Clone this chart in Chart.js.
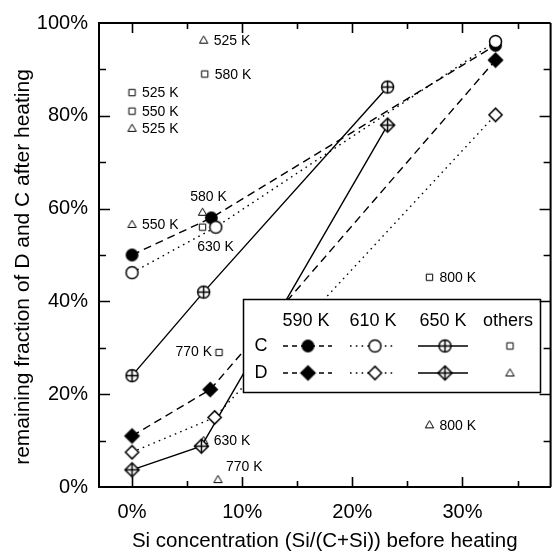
<!DOCTYPE html>
<html lang="en">
<head>
<meta charset="UTF-8">
<title>Remaining fraction of D and C after heating</title>
<script src="https://cdn.jsdelivr.net/npm/chart.js"></script>
<style>
  html, body { margin: 0; padding: 0; background: #fff; }
  #chart { display: block; }
</style>
</head>
<body>
<canvas id="chart" width="558" height="554"></canvas>
<script>
// Si concentration (%) vs remaining fraction (%)
const c590x = [0, 7.2, 33.0];
const c590y = [50, 58, 95.2];
const c610x = [0, 7.6, 33.0];
const c610y = [46.2, 56, 96];
const c650x = [0, 6.5, 23.2];
const c650y = [24, 42, 86.2];
const d590x = [0, 7.1, 33.0];
const d590y = [11, 21, 92];
const d610x = [0, 7.5, 33.0];
const d610y = [7.5, 15, 80.2];
const d650x = [0, 6.3, 23.2];
const d650y = [3.7, 8.8, 78];

// "others" (single heatings at other temperatures)
const otherCx = [0, 0, 6.6, 6.4, 7.9, 27.0];
const otherCy = [85, 81, 89, 56, 29, 45.2];
const otherCtemp = ['525 K', '550 K', '580 K', '630 K', '770 K', '800 K'];
const otherDx = [6.5, 0, 0, 6.4, 6.5, 7.8, 27.0];
const otherDy = [96.3, 77.3, 56.6, 59.2, 10, 1.6, 13.4];
const otherDtemp = ['525 K', '525 K', '550 K', '580 K', '630 K', '770 K', '800 K'];

const xTicks = [0, 10, 20, 30];
const yTicks = [0, 20, 40, 60, 80, 100];
const tempHeads = ['590 K', '610 K', '650 K', 'others'];

const FONT = '"Liberation Sans", Arial, Helvetica, sans-serif';
Chart.defaults.font.family = FONT;
Chart.defaults.color = '#000';

// where each "others" label sits relative to its marker
const otherCside = ['r', 'r', 'r', 'b', 'l', 'r'];
const otherDside = ['r', 'r', 'r', 't', 'r', 'tr', 'r'];

function marker(kind) {
  const s = 19, m = s / 2;
  const c = document.createElement('canvas');
  c.width = s; c.height = s;
  const g = c.getContext('2d');
  g.strokeStyle = '#000';
  g.fillStyle = '#fff';
  g.lineWidth = 1.5;
  const circle = r => { g.beginPath(); g.arc(m, m, r, 0, Math.PI * 2); };
  const diamond = r => {
    g.beginPath();
    g.moveTo(m, m - r); g.lineTo(m + r, m); g.lineTo(m, m + r); g.lineTo(m - r, m);
    g.closePath();
  };
  const plus = r => {
    g.beginPath();
    g.moveTo(m - r, m); g.lineTo(m + r, m);
    g.moveTo(m, m - r); g.lineTo(m, m + r);
    g.stroke();
  };
  if (kind === 'dot') { circle(6.4); g.fillStyle = '#000'; g.fill(); }
  if (kind === 'ring') { circle(6); g.fill(); g.stroke(); }
  if (kind === 'ocross') { circle(6); g.fill(); g.stroke(); plus(6); }
  if (kind === 'diamond') { diamond(7); g.fillStyle = '#000'; g.fill(); g.stroke(); }
  if (kind === 'odiamond') { diamond(6.6); g.fill(); g.stroke(); }
  if (kind === 'dcross') { diamond(7); g.fill(); g.stroke(); plus(7); }
  if (kind === 'square') {
    g.lineWidth = 1;
    g.beginPath(); g.rect(m - 3.2, m - 3.2, 6.4, 6.4); g.fill(); g.stroke();
  }
  if (kind === 'tri') {
    g.lineWidth = 1;
    g.beginPath(); g.moveTo(m, m - 4.2); g.lineTo(m + 4.2, m + 3); g.lineTo(m - 4.2, m + 3);
    g.closePath(); g.fill(); g.stroke();
  }
  return c;
}

const mk = {};
['dot', 'ring', 'ocross', 'diamond', 'odiamond', 'dcross', 'square', 'tri'].forEach(k => mk[k] = marker(k));

const DASH = [8, 5], DOT = [1.6, 4.2], SOLID = [];

function pts(xs, ys) { return xs.map((x, i) => ({ x: x, y: ys[i] })); }

function series(xs, ys, style, dash) {
  return {
    data: pts(xs, ys),
    showLine: true,
    borderColor: '#000',
    borderWidth: 1.4,
    borderDash: dash,
    pointStyle: mk[style],
    pointRadius: 6,
    pointHoverRadius: 6
  };
}

function others(xs, ys, style) {
  return {
    data: pts(xs, ys),
    showLine: false,
    pointStyle: mk[style],
    pointRadius: 4,
    pointHoverRadius: 4
  };
}

// first dataset is painted last (on top)
const datasets = [
  series(c610x, c610y, 'ring', DOT),
  series(c590x, c590y, 'dot', DASH),
  series(c650x, c650y, 'ocross', SOLID),
  series(d610x, d610y, 'odiamond', DOT),
  series(d590x, d590y, 'diamond', DASH),
  series(d650x, d650y, 'dcross', SOLID),
  others(otherCx, otherCy, 'square'),
  others(otherDx, otherDy, 'tri')
];

const decor = {
  id: 'decor',
  afterDatasetsDraw(chart) {
    const { ctx, scales: { x, y } } = chart;
    ctx.save();
    ctx.fillStyle = '#000';

    // temperature labels of the "others" points
    ctx.font = '14px ' + FONT;
    ctx.textBaseline = 'middle';
    const put = (xs, ys, txt, side) => {
      xs.forEach((v, i) => {
        const px = x.getPixelForValue(v), py = y.getPixelForValue(ys[i]);
        const s = side[i];
        if (s === 'r') { ctx.textAlign = 'left'; ctx.fillText(txt[i], px + 10, py + 1); }
        if (s === 'l') { ctx.textAlign = 'right'; ctx.fillText(txt[i], px - 7, py); }
        if (s === 'b') { ctx.textAlign = 'center'; ctx.fillText(txt[i], px + 13, py + 20); }
        if (s === 't') { ctx.textAlign = 'center'; ctx.fillText(txt[i], px + 6, py - 15); }
        if (s === 'tr') { ctx.textAlign = 'left'; ctx.fillText(txt[i], px + 8, py - 12); }
      });
    };
    put(otherCx, otherCy, otherCtemp, otherCside);
    put(otherDx, otherDy, otherDtemp, otherDside);

    // legend box
    const bx = 243.5, by = 299.5, bw = 297, bh = 93;
    ctx.fillStyle = '#fff';
    ctx.fillRect(bx, by, bw, bh);
    ctx.strokeStyle = '#000';
    ctx.lineWidth = 1.5;
    ctx.strokeRect(bx, by, bw, bh);
    ctx.fillStyle = '#000';
    ctx.font = '18px ' + FONT;
    ctx.textAlign = 'center';
    const cols = [306, 373, 443, 508];
    tempHeads.forEach((t, i) => ctx.fillText(t, cols[i], 321));
    const rows = [346, 373];
    ctx.fillText('C', 261, rows[0]);
    ctx.fillText('D', 261, rows[1]);
    const samples = [
      [['dot', 'ring', 'ocross', 'square'], rows[0]],
      [['diamond', 'odiamond', 'dcross', 'tri'], rows[1]]
    ];
    const spans = [[283, 332, DASH], [350, 393, DOT], [418, 468, SOLID]];
    ctx.lineWidth = 1.4;
    samples.forEach(([kinds, ry]) => {
      spans.forEach(([x0, x1, dash]) => {
        ctx.setLineDash(dash === DASH ? [5, 4] : dash);
        ctx.beginPath();
        ctx.moveTo(x0, ry); ctx.lineTo(x1, ry);
        ctx.stroke();
      });
      ctx.setLineDash([]);
      kinds.forEach((k, i) => {
        const im = mk[k];
        ctx.drawImage(im, cols[i] + 2 - im.width / 2, ry - im.height / 2);
      });
    });
    ctx.restore();
  },
  afterDraw(chart) {
    const { ctx, chartArea: a, scales: { x, y } } = chart;
    ctx.save();
    ctx.strokeStyle = '#000';
    ctx.lineWidth = 2;
    ctx.beginPath();
    ctx.moveTo(a.left, a.top); ctx.lineTo(a.right, a.top);
    ctx.moveTo(a.right, a.top); ctx.lineTo(a.right, a.bottom);
    ctx.stroke();

    ctx.lineWidth = 1.6;
    ctx.beginPath();
    for (let v = 0; v <= 35; v += 5) {
      const px = Math.round(x.getPixelForValue(v)) + 0.5;
      const len = v % 10 === 0 ? 10 : 6;
      ctx.moveTo(px, a.bottom); ctx.lineTo(px, a.bottom - len);
      ctx.moveTo(px, a.top); ctx.lineTo(px, a.top + len);
    }
    for (let v = 10; v < 100; v += 10) {
      const py = Math.round(y.getPixelForValue(v)) + 0.5;
      const len = v % 20 === 0 ? 11 : 7;
      ctx.moveTo(a.left, py); ctx.lineTo(a.left + len, py);
      ctx.moveTo(a.right, py); ctx.lineTo(a.right - len, py);
    }
    ctx.stroke();

    // axis titles
    ctx.fillStyle = '#000';
    ctx.textAlign = 'center';
    ctx.textBaseline = 'middle';
    ctx.font = '20.5px ' + FONT;
    ctx.fillText('Si concentration (Si/(C+Si)) before heating', (a.left + a.right) / 2, 541);
    ctx.font = '21px ' + FONT;
    ctx.translate(23, 267);
    ctx.rotate(-Math.PI / 2);
    ctx.fillText('remaining fraction of D and C after heating', 0, 0);
    ctx.restore();
  }
};

new Chart(document.getElementById('chart'), {
  type: 'scatter',
  data: { datasets: datasets },
  options: {
    responsive: false,
    animation: false,
    events: [],
    layout: { padding: { top: 22, right: -5, left: 0, bottom: 0 } },
    plugins: { legend: { display: false }, tooltip: { enabled: false } },
    scales: {
      x: {
        type: 'linear',
        min: -3,
        max: 38,
        afterFit: s => { s.height = 67; },
        afterBuildTicks: s => { s.ticks = xTicks.map(v => ({ value: v })); },
        grid: { display: false, drawTicks: false },
        border: { display: true, color: '#000', width: 2 },
        ticks: { padding: 13, font: { size: 20 }, color: '#000', callback: v => v + '%' }
      },
      y: {
        type: 'linear',
        min: 0,
        max: 100,
        afterFit: s => { s.width = 99; },
        afterBuildTicks: s => { s.ticks = yTicks.map(v => ({ value: v })); },
        grid: { display: false, drawTicks: false },
        border: { display: true, color: '#000', width: 2 },
        ticks: { padding: 11, font: { size: 20 }, color: '#000', callback: v => v + '%' }
      }
    }
  },
  plugins: [decor]
});
</script>
</body>
</html>
